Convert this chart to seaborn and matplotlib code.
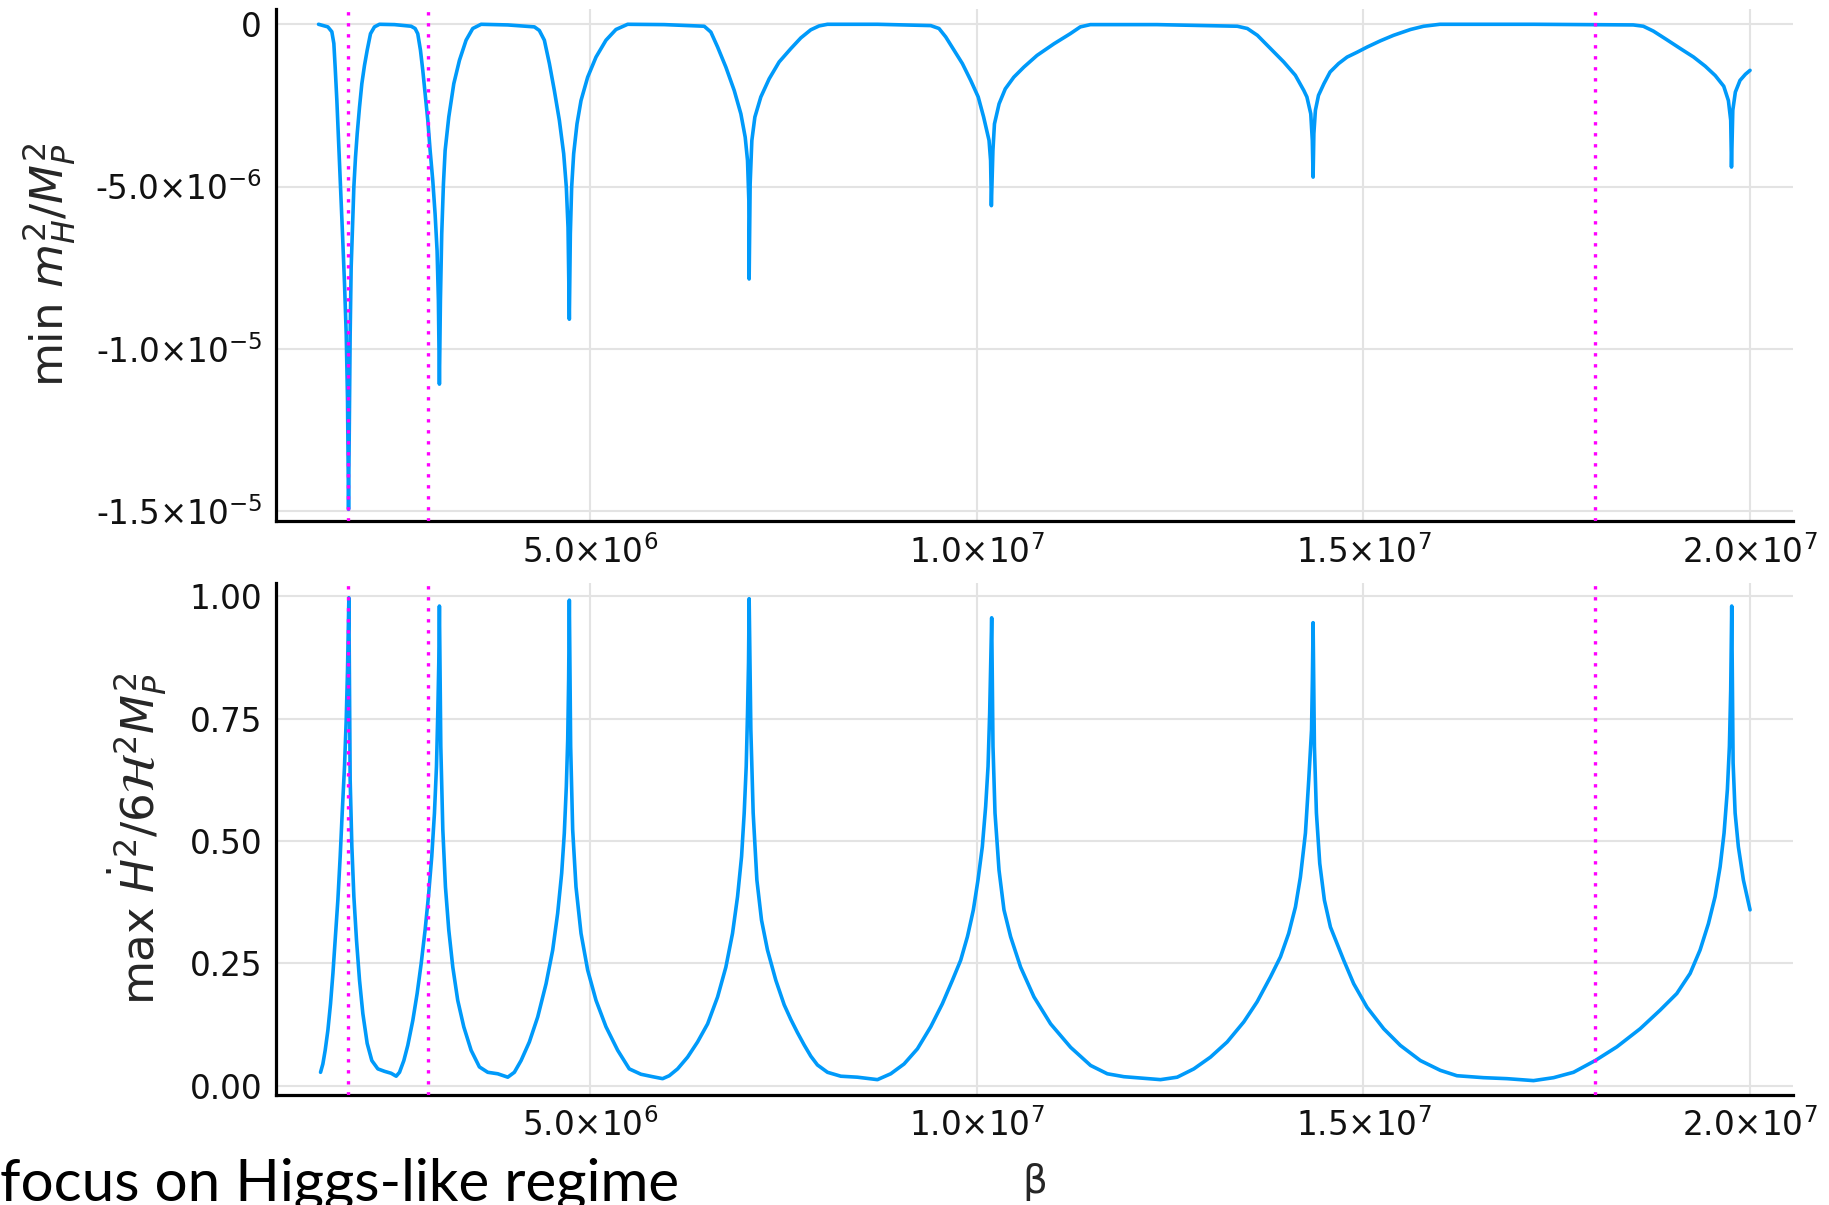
import matplotlib
matplotlib.use("Agg")
import matplotlib.pyplot as plt
import seaborn as sns
import numpy as np
import pandas as pd

# ---------------- data (beta in units of 1e6) ----------------
beta_top = [1.490, 1.611, 1.662, 1.688, 1.705, 1.727, 1.749, 1.774, 1.800, 1.826, 1.848, 1.865, 1.878,
            1.899, 1.912, 1.929, 1.947, 1.968, 1.990, 2.020, 2.050, 2.084, 2.119, 2.162, 2.213, 2.278,
            2.472, 2.687, 2.739, 2.773, 2.808, 2.838, 2.868, 2.903, 2.933, 2.967, 2.997, 3.023, 3.040, 3.053,
            3.066, 3.083, 3.105, 3.127, 3.174, 3.239, 3.312, 3.398, 3.484, 3.592,
            3.937, 4.281, 4.345, 4.410, 4.475, 4.539, 4.604, 4.660, 4.694, 4.716, 4.733,
            4.746, 4.763, 4.789, 4.832, 4.884, 4.970, 5.078, 5.207, 5.336, 5.487,
            5.960, 6.477, 6.563, 6.650, 6.757, 6.865, 6.951, 7.007, 7.037, 7.054, 7.058,
            7.071, 7.093, 7.132, 7.209, 7.317, 7.446, 7.597, 7.726, 7.855, 7.963, 8.071,
            8.717, 9.406, 9.513, 9.600, 9.707, 9.815, 9.923, 10.02, 10.09, 10.16, 10.18, 10.19,
            10.21, 10.23, 10.29, 10.37, 10.48, 10.61, 10.78, 11.00, 11.21, 11.34, 11.47,
            12.33, 13.37, 13.50, 13.63, 13.80, 13.97, 14.12, 14.23, 14.27, 14.32, 14.34, 14.35,
            14.36, 14.38, 14.42, 14.49, 14.57, 14.68, 14.79, 14.92, 15.05, 15.22, 15.39, 15.61, 15.78, 15.99,
            17.20, 18.49, 18.62, 18.75, 18.92, 19.10, 19.27, 19.42, 19.55, 19.66, 19.72, 19.75, 19.76,
            19.777, 19.81, 19.87, 19.94, 20.00]
# min m_H^2/M_P^2 in units of 1e-6
mH_top = [0.0, -0.08, -0.23, -0.59, -1.32, -2.35, -3.58, -5.02, -6.46, -8.0, -9.55, -11.6, -14.95,
          -9.55, -7.49, -6.26, -5.0, -4.10, -3.37, -2.55, -1.83, -1.27, -0.80, -0.29, -0.08, 0.0,
          -0.01, -0.06, -0.13, -0.29, -0.80, -1.42, -2.14, -2.96, -3.89, -4.81, -5.84, -6.98, -8.52, -11.09,
          -8.52, -6.46, -4.92, -3.89, -2.86, -1.83, -1.11, -0.49, -0.13, 0.0,
          -0.02, -0.08, -0.19, -0.49, -1.21, -2.04, -2.96, -3.99, -5.02, -6.26, -9.09,
          -6.46, -5.02, -3.99, -3.07, -2.35, -1.63, -1.01, -0.49, -0.16, 0.0,
          -0.01, -0.06, -0.24, -0.70, -1.32, -2.04, -2.76, -3.48, -4.20, -5.43, -7.85,
          -4.92, -3.58, -2.86, -2.24, -1.68, -1.16, -0.75, -0.42, -0.17, -0.05, 0.0,
          0.0, -0.04, -0.13, -0.39, -0.80, -1.21, -1.73, -2.24, -2.86, -3.58, -4.20, -5.59,
          -3.89, -3.07, -2.45, -1.99, -1.63, -1.32, -0.96, -0.60, -0.29, -0.08, -0.01,
          -0.01, -0.06, -0.13, -0.34, -0.75, -1.16, -1.57, -2.04, -2.24, -2.76, -3.58, -4.71,
          -3.37, -2.65, -2.19, -1.83, -1.47, -1.21, -1.01, -0.86, -0.70, -0.51, -0.34, -0.16, -0.06, 0.0,
          0.0, -0.02, -0.06, -0.21, -0.47, -0.75, -1.01, -1.29, -1.58, -1.91, -2.35, -2.96, -4.40,
          -2.65, -2.09, -1.73, -1.54, -1.42]

beta_bot = [1.516, 1.546, 1.576, 1.611, 1.645, 1.676, 1.705, 1.740, 1.770, 1.796, 1.826, 1.848, 1.865, 1.882,
            1.899, 1.921, 1.947, 1.981, 2.020, 2.063, 2.119, 2.179, 2.257, 2.343, 2.429, 2.494,
            2.537, 2.593, 2.644, 2.709, 2.765, 2.817, 2.868, 2.911, 2.954, 2.989, 3.015, 3.032, 3.045, 3.053,
            3.071, 3.097, 3.131, 3.174, 3.226, 3.290, 3.368, 3.463, 3.570, 3.678, 3.807, 3.937,
            4.022, 4.109, 4.216, 4.324, 4.432, 4.518, 4.582, 4.634, 4.668, 4.694, 4.712, 4.724, 4.733,
            4.750, 4.776, 4.819, 4.884, 4.970, 5.078, 5.207, 5.358, 5.508, 5.659, 5.810, 5.939,
            6.025, 6.133, 6.262, 6.391, 6.521, 6.650, 6.757, 6.843, 6.908, 6.960, 6.994, 7.020, 7.037, 7.050, 7.058,
            7.080, 7.110, 7.158, 7.218, 7.295, 7.403, 7.511, 7.597, 7.683, 7.769, 7.855, 7.941, 8.071,
            8.243, 8.458, 8.717,
            8.889, 9.061, 9.234, 9.406, 9.556, 9.686, 9.793, 9.880, 9.957, 10.017, 10.073, 10.116, 10.147,
            10.168, 10.181, 10.194,
            10.211, 10.237, 10.289, 10.353, 10.439, 10.568, 10.741, 10.956, 11.215, 11.473, 11.689, 11.904, 12.377,
            12.593, 12.808, 13.023, 13.239, 13.454, 13.626, 13.799, 13.928, 14.035, 14.122, 14.186, 14.251,
            14.294, 14.330, 14.341, 14.350,
            14.367, 14.393, 14.436, 14.496, 14.574, 14.660, 14.746, 14.875, 15.047, 15.263, 15.478, 15.737,
            15.995, 16.210, 16.555, 16.857, 17.200,
            17.459, 17.717, 17.998, 18.278, 18.579, 18.837, 19.053, 19.225, 19.354, 19.462, 19.548, 19.613,
            19.664, 19.707, 19.733, 19.750, 19.763,
            19.781, 19.807, 19.849, 19.914, 20.000]
# max Hdot^2 / 6 H^2 M_P^2
hdot_bot = [0.027, 0.044, 0.072, 0.113, 0.167, 0.229, 0.297, 0.379, 0.468, 0.557, 0.652, 0.748, 0.850, 0.997,
            0.625, 0.488, 0.386, 0.297, 0.215, 0.147, 0.086, 0.051, 0.034, 0.029, 0.025, 0.019,
            0.027, 0.051, 0.082, 0.133, 0.188, 0.249, 0.318, 0.386, 0.468, 0.557, 0.652, 0.761, 0.864, 0.980,
            0.693, 0.523, 0.406, 0.318, 0.242, 0.174, 0.120, 0.072, 0.038, 0.027, 0.024, 0.017,
            0.027, 0.051, 0.089, 0.140, 0.208, 0.277, 0.352, 0.434, 0.516, 0.611, 0.707, 0.830, 0.992,
            0.693, 0.523, 0.406, 0.311, 0.236, 0.174, 0.120, 0.072, 0.034, 0.023, 0.018, 0.014,
            0.020, 0.034, 0.058, 0.089, 0.126, 0.181, 0.242, 0.311, 0.386, 0.468, 0.557, 0.652, 0.761, 0.864, 0.995,
            0.727, 0.557, 0.420, 0.338, 0.277, 0.215, 0.165, 0.135, 0.108, 0.083, 0.060, 0.042, 0.027,
            0.019, 0.017, 0.012,
            0.024, 0.044, 0.075, 0.120, 0.167, 0.215, 0.256, 0.304, 0.359, 0.420, 0.488, 0.570, 0.652,
            0.761, 0.864, 0.956,
            0.693, 0.557, 0.440, 0.359, 0.304, 0.242, 0.181, 0.126, 0.078, 0.041, 0.024, 0.018, 0.012,
            0.017, 0.034, 0.058, 0.089, 0.130, 0.171, 0.222, 0.263, 0.311, 0.365, 0.426, 0.516,
            0.625, 0.727, 0.830, 0.946,
            0.693, 0.557, 0.454, 0.379, 0.324, 0.290, 0.256, 0.208, 0.160, 0.116, 0.082, 0.051,
            0.031, 0.020, 0.016, 0.014, 0.010,
            0.016, 0.027, 0.051, 0.079, 0.116, 0.154, 0.188, 0.229, 0.277, 0.331, 0.386, 0.447,
            0.516, 0.605, 0.693, 0.809, 0.980,
            0.659, 0.557, 0.488, 0.420, 0.359]

vlines_beta = [1.877e6, 2.910e6, 1.80e7]

xticks = [5.0e6, 1.0e7, 1.5e7, 2.0e7]
xtick_labels = [r"5.0×10$^{6}$", r"1.0×10$^{7}$", r"1.5×10$^{7}$", r"2.0×10$^{7}$"]
ytop_ticks = [0.0, -5.0e-6, -1.0e-5, -1.5e-5]
ytop_labels = ["0", r"-5.0×10$^{-6}$", r"-1.0×10$^{-5}$", r"-1.5×10$^{-5}$"]
ybot_ticks = [0.0, 0.25, 0.50, 0.75, 1.00]
ybot_labels = ["0.00", "0.25", "0.50", "0.75", "1.00"]

df_top = pd.DataFrame({"beta": np.array(beta_top) * 1e6, "val": np.array(mH_top) * 1e-6})
df_bot = pd.DataFrame({"beta": np.array(beta_bot) * 1e6, "val": np.array(hdot_bot)})

# ---------------- style ----------------
sns.set_theme(style="white")
plt.rcParams["font.family"] = ["DejaVu Sans"]
plt.rcParams["mathtext.fontset"] = "dejavusans"

BLUE = "#009AFA"
MAGENTA = "#FF00FF"
GRID = "#e3e3e3"

fig = plt.figure(figsize=(18.29, 12.05), dpi=100)
ax1 = fig.add_axes([0.1509, 0.5676, 0.8294, 0.4249])
ax2 = fig.add_axes([0.1509, 0.09145, 0.8294, 0.4251])

for ax, df in ((ax1, df_top), (ax2, df_bot)):
    sns.lineplot(data=df, x="beta", y="val", ax=ax, color=BLUE, linewidth=2.6,
                 estimator=None, sort=False, zorder=3)
    for vb in vlines_beta:
        ax.axvline(vb, color=MAGENTA, linewidth=2.4, linestyle=(0, (1, 2.3)),
                   dash_capstyle="butt", zorder=4)
    ax.set_xlim(0.94e6, 2.0555e7)
    ax.set_xticks(xticks)
    ax.set_xticklabels(xtick_labels)
    ax.grid(True, color=GRID, linewidth=1.5, zorder=0)
    ax.set_axisbelow(True)
    for s in ("top", "right"):
        ax.spines[s].set_visible(False)
    for s in ("left", "bottom"):
        ax.spines[s].set_color("black")
        ax.spines[s].set_linewidth(2.3)
    ax.tick_params(axis="both", direction="in", length=7, width=2, color="black",
                   labelsize=23.5, pad=10, labelcolor="#111111")
    ax.set_xlabel("")
    ax.set_ylabel("")

ax1.set_ylim(-1.531e-5, 0.47e-6)
ax1.set_yticks(ytop_ticks)
ax1.set_yticklabels(ytop_labels)
ax1.set_ylabel(r"min $m_H^2/M_P^2$", fontsize=32.5, labelpad=12)

ax2.set_ylim(-0.019, 1.028)
ax2.set_yticks(ybot_ticks)
ax2.set_yticklabels(ybot_labels)
ax2.set_ylabel(r"max $\dot{H}^2/6\mathcal{H}^2M_P^2$", fontsize=32.5, labelpad=15)
ax2.set_xlabel("β", fontsize=28, labelpad=14)

fig.text(0.0, 0.004, "focus on Higgs-like regime", fontsize=42,
         family=["Lato", "DejaVu Sans"], ha="left", va="baseline", color="black")

fig.savefig("out.png", dpi=100)
